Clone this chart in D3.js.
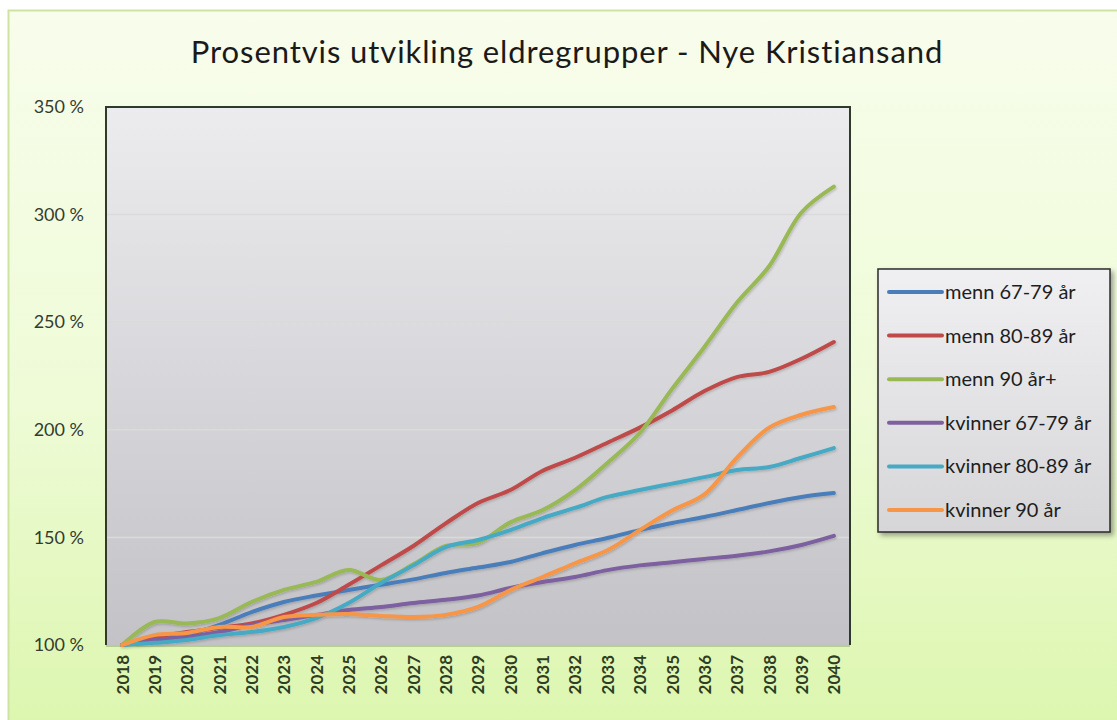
<!DOCTYPE html>
<html>
<head>
<meta charset="utf-8">
<script src="https://cdn.jsdelivr.net/npm/d3@7"></script>
<style>
  html, body { margin: 0; padding: 0; background: #ffffff; }
  svg { display: block; }
</style>
</head>
<body>
<svg id="chart" width="1117" height="720"></svg>
<script>
// ---- DATA ----
const years = ["2018","2019","2020","2021","2022","2023","2024","2025","2026","2027","2028","2029","2030","2031","2032","2033","2034","2035","2036","2037","2038","2039","2040"];
const seriesNames = ["menn 67-79 år","menn 80-89 år","menn 90 år+","kvinner 67-79 år","kvinner 80-89 år","kvinner 90 år"];
const menn6779    = [100,102.3,104.6,109.3,115.3,120,123,125.6,128,130.5,133.5,136,138.6,142.7,146.5,149.7,153.4,156.7,159.5,162.7,166,168.8,170.6];
const menn8089    = [100,103.7,106,108,110,114,119.5,128,137,146,156.5,166,172,181,187,194,201,209,218,224.5,226.9,233,240.8];
const menn90      = [100,110.7,110,112.5,120,125.6,129.3,134.8,130.2,137.5,146,147.5,157,162.7,172,184.6,198.5,219,238.5,259,276,301,313];
const kvinner6779 = [100,102.3,103.7,106,109.3,111.6,114,116.3,117.7,119.5,121,123,126.5,129.3,131.6,134.8,137,138.5,140,141.5,143.5,146.5,150.7];
const kvinner8089 = [100,101,102.3,104.6,106,108.4,112.5,119.5,128.8,137,145.5,148.8,153.4,159,163.7,168.8,172,175,178,181.3,182.7,187,191.5];
const kvinner90   = [100,104.6,105.6,108.4,108.4,113,114,114.4,113.5,113,114,117.7,125.5,131.6,138,144,153.4,162.5,170,187,201,207,210.6];
const yTicks = [100,150,200,250,300,350];
const titleText = "Prosentvis utvikling eldregrupper - Nye Kristiansand";

const seriesValues = [menn6779, menn8089, menn90, kvinner6779, kvinner8089, kvinner90];
const colors = ["#4a7ebb","#be4b48","#98b954","#7d60a0","#46aac5","#f79646"];

// ---- LAYOUT ----
const svg = d3.select("#chart");
const plot = {left:106, right:850, top:107, bottom:645};
const FONT = "Lato, 'Open Sans', sans-serif";

const defs = svg.append("defs");
const bgGrad = defs.append("linearGradient").attr("id","bgGrad").attr("x1",0).attr("y1",0).attr("x2",0).attr("y2",1);
bgGrad.append("stop").attr("offset","0%").attr("stop-color","#f8fdec");
bgGrad.append("stop").attr("offset","55%").attr("stop-color","#eefbd6");
bgGrad.append("stop").attr("offset","100%").attr("stop-color","#dcf6ae");

const plotGrad = defs.append("linearGradient").attr("id","plotGrad").attr("x1",0).attr("y1",0).attr("x2",0).attr("y2",1);
plotGrad.append("stop").attr("offset","0%").attr("stop-color","#ecebee");
plotGrad.append("stop").attr("offset","100%").attr("stop-color","#c3c2c6");

const legGrad = defs.append("linearGradient").attr("id","legGrad").attr("x1",0).attr("y1",0).attr("x2",0).attr("y2",1);
legGrad.append("stop").attr("offset","0%").attr("stop-color","#f0f0f2");
legGrad.append("stop").attr("offset","100%").attr("stop-color","#d6d6d8");

const shadow = defs.append("filter").attr("id","shadow").attr("x","-10%").attr("y","-10%").attr("width","130%").attr("height","130%");
shadow.append("feDropShadow").attr("dx",3).attr("dy",3).attr("stdDeviation",2.5).attr("flood-color","#000").attr("flood-opacity",0.35);

const lineShadow = defs.append("filter").attr("id","lineShadow").attr("x","-5%").attr("y","-5%").attr("width","110%").attr("height","110%");
lineShadow.append("feDropShadow").attr("dx",1).attr("dy",1.5).attr("stdDeviation",1.2).attr("flood-color","#000").attr("flood-opacity",0.18);

// chart background
svg.append("rect").attr("x",8.5).attr("y",10.5).attr("width",1120).attr("height",720)
  .attr("fill","url(#bgGrad)").attr("stroke","#cfe3a0").attr("stroke-width",2);

// title
svg.append("text").attr("x",567).attr("y",63).attr("text-anchor","middle")
  .attr("font-family",FONT).attr("font-size",31).attr("letter-spacing","0.9px").attr("fill","#1a1a1a")
  .text(titleText);

// scales
const x = d3.scalePoint().domain(years).range([plot.left, plot.right]).padding(0.5);
const y = d3.scaleLinear().domain([100,350]).range([plot.bottom, plot.top]);

// plot area
svg.append("rect").attr("x",plot.left).attr("y",plot.top).attr("width",plot.right-plot.left).attr("height",plot.bottom-plot.top)
  .attr("fill","url(#plotGrad)");

// gridlines
svg.append("g").selectAll("line").data(yTicks.filter(d => d > 100 && d < 350)).join("line")
  .attr("x1",plot.left).attr("x2",plot.right).attr("y1",d=>y(d)).attr("y2",d=>y(d))
  .attr("stroke","#dadada").attr("stroke-width",1.5);

// plot border: dark left/top/right, light bottom
svg.append("path").attr("d",`M${plot.left},${plot.bottom} V${plot.top} H${plot.right} V${plot.bottom}`)
  .attr("fill","none").attr("stroke","#2f3a2a").attr("stroke-width",2);
svg.append("line").attr("x1",plot.left).attr("x2",plot.right).attr("y1",plot.bottom+1).attr("y2",plot.bottom+1)
  .attr("stroke","#b7cf8e").attr("stroke-width",2);

// y axis labels
const yAxis = d3.axisLeft(y).tickValues(yTicks).tickFormat(d => d + " %").tickSize(0).tickPadding(22);
const gy = svg.append("g").attr("transform",`translate(${plot.left},0)`).call(yAxis);
gy.select(".domain").remove();
gy.selectAll("text").attr("font-family",FONT).attr("font-size",18).attr("fill","#343c2e");

// x axis labels (rotated)
const xAxis = d3.axisBottom(x).tickSize(0).tickPadding(0);
const gx = svg.append("g").attr("transform",`translate(0,${plot.bottom})`).call(xAxis);
gx.select(".domain").remove();
gx.selectAll("text")
  .attr("font-family",FONT).attr("font-size",17).attr("font-weight","bold").attr("fill","#2f3d22")
  .attr("text-anchor","end").attr("dy","0.35em").attr("dx","0")
  .attr("transform", "translate(0,10) rotate(-90)")
  .attr("x",0).attr("y",0);

// lines
const line = d3.line().x((d,i)=>x(years[i])).y(d=>y(d)).curve(d3.curveCatmullRom.alpha(0.5));
const gl = svg.append("g").attr("filter","url(#lineShadow)");
seriesValues.forEach((vals,k) => {
  gl.append("path").datum(vals).attr("d",line).attr("fill","none")
    .attr("stroke",colors[k]).attr("stroke-width",4).attr("stroke-linejoin","round").attr("stroke-linecap","round");
});

// legend
const leg = {x:878, y:269, w:232, h:263};
svg.append("rect").attr("x",leg.x).attr("y",leg.y).attr("width",leg.w).attr("height",leg.h)
  .attr("fill","url(#legGrad)").attr("stroke","#2a2a2a").attr("stroke-width",1.5).attr("filter","url(#shadow)");
const rowY = d3.scalePoint().domain(seriesNames).range([292,510]);
const lg = svg.append("g");
seriesNames.forEach((name,k) => {
  const yy = rowY(name);
  lg.append("line").attr("x1",889).attr("x2",942).attr("y1",yy).attr("y2",yy)
    .attr("stroke",colors[k]).attr("stroke-width",4).attr("stroke-linecap","round");
  lg.append("text").attr("x",945).attr("y",yy).attr("dy","0.35em")
    .attr("font-family",FONT).attr("font-size",20).attr("fill","#1e1e1e")
    .text(name);
});
</script>
</body>
</html>
